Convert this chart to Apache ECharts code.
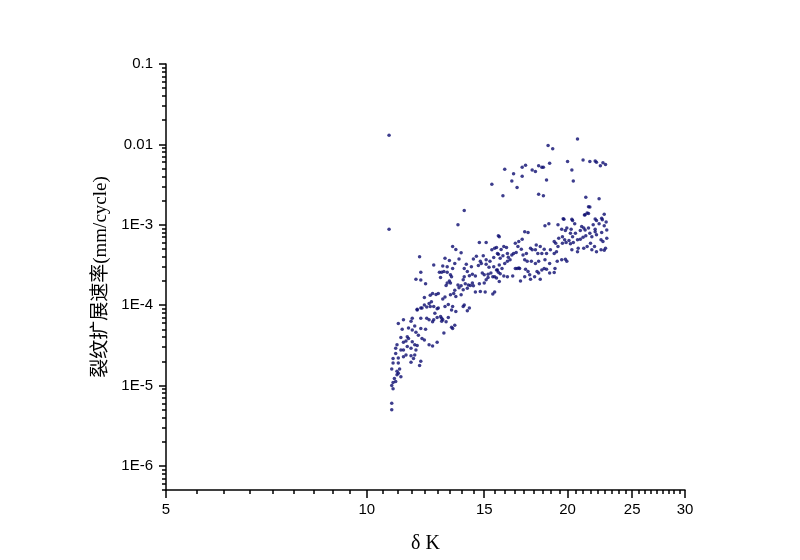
<!DOCTYPE html>
<html>
<head>
<meta charset="utf-8">
<script src="https://cdn.jsdelivr.net/npm/echarts@6/dist/echarts.min.js"></script>
<style>
html,body{margin:0;padding:0;background:#fff}
#chart{width:800px;height:560px}
</style>
</head>
<body>
<div id="chart"></div>
<script>
// 坐标轴刻度
const xTicks = [5, 10, 15, 20, 25, 30];
const yTicks = [1e-6, 1e-5, 1e-4, 1e-3, 0.01, 0.1];
const yTickLabels = ['1E-6', '1E-5', '1E-4', '1E-3', '0.01', '0.1'];

// [ΔK, da/dN] 上方离散点
const upperBand = [
  [10.8,0.013],[14.0,1.5e-3],[15.4,3.2e-3],[16.0,2.3e-3],[16.1,4.9e-3],[16.6,4.3e-3],[16.5,3.5e-3],[16.8,2.9e-3],
  [17.1,4.0e-3],[17.1,5.2e-3],[17.3,5.5e-3],[17.7,4.8e-3],[17.9,4.6e-3],[18.1,5.4e-3],[18.3,5.2e-3],[18.4,5.2e-3],
  [18.1,2.4e-3],[18.4,2.3e-3],[18.6,3.6e-3],[18.7,9.7e-3],[19.0,8.8e-3],[18.8,5.8e-3],[20.0,6.1e-3],[20.3,4.8e-3],
  [20.4,3.5e-3],[20.7,0.0117],[21.1,6.4e-3],[21.6,6.1e-3],[22.0,6.2e-3],[22.1,6.0e-3],[22.4,5.4e-3],[22.6,5.9e-3],
  [22.8,5.6e-3],[21.3,2.2e-3],[22.3,2.1e-3],[21.5,1.67e-3],[21.5,1.38e-3],[21.2,1.32e-3],[22.7,1.35e-3],[22.5,1.2e-3],
  [22.0,1.18e-3],[19.7,1.19e-3],[20.3,1.17e-3]
];

// 主带 ΔK 12~16
const midBand = [
  [10.8,8.8e-4],[13.7,1.0e-3],[15.8,7.1e-4],[14.75,6.0e-4],[15.1,6.0e-4],[13.45,5.35e-4],[13.6,4.9e-4],[13.85,4.47e-4],[15.4,4.87e-4],[15.65,5.2e-4],
  [12.0,4.0e-4],[13.1,3.84e-4],[13.3,3.6e-4],[13.75,3.75e-4],[13.55,3.3e-4],[14.6,4.05e-4],[14.45,3.75e-4],[14.8,3.5e-4],[14.95,4.1e-4],[15.1,3.66e-4],
  [15.3,3.5e-4],[15.5,3.9e-4],[15.75,4.3e-4],[12.6,3.16e-4],[13.0,3.07e-4],[13.2,3.0e-4],[13.45,2.85e-4],[14.1,3.23e-4],[14.35,3.0e-4],[14.7,3.1e-4],
  [14.85,3.3e-4],[15.1,3.23e-4],[15.5,3.0e-4],[15.7,2.74e-4],[15.25,2.95e-4],[12.85,2.57e-4],[12.95,2.57e-4],[13.05,2.62e-4],[12.9,2.2e-4],[13.2,2.57e-4],
  [13.35,2.38e-4],[13.4,2.25e-4],[14.0,2.85e-4],[14.15,2.62e-4],[14.4,2.42e-4],[14.55,2.3e-4],[14.0,2.26e-4],[14.9,2.5e-4],[15.0,2.38e-4],[15.2,2.42e-4],
  [15.35,2.5e-4],[15.45,2.26e-4],[15.75,2.57e-4],[15.55,2.26e-4],[12.05,2.57e-4],[11.85,2.1e-4],[12.05,2.05e-4],[12.25,1.84e-4],[13.3,2.0e-4],[13.2,1.88e-4],
  [13.15,1.75e-4],[13.35,1.88e-4],[13.95,2.06e-4],[14.05,1.84e-4],[14.2,1.78e-4],[14.3,1.75e-4],[14.4,1.88e-4],[14.25,2.32e-4],[14.45,1.74e-4],[14.75,1.84e-4],
  [15.0,1.88e-4],[15.1,2.06e-4],[15.2,2.2e-4],[15.65,2.17e-4],[15.8,1.96e-4],[13.7,1.78e-4],[13.75,1.64e-4],[13.85,1.74e-4],[13.55,1.53e-4],[13.5,1.39e-4],
  [13.35,1.34e-4],[13.1,1.26e-4],[13.0,1.19e-4],[12.55,1.39e-4],[12.45,1.33e-4],[12.7,1.35e-4],[12.8,1.39e-4],[12.5,1.1e-4],[12.2,1.24e-4],[12.4,1.05e-4],
  [13.25,1.02e-4],[13.6,1.28e-4],[13.85,1.34e-4],[13.95,1.55e-4],[14.15,1.62e-4],[14.55,1.45e-4],[14.8,1.48e-4],[15.05,1.45e-4],[15.55,1.45e-4],[15.45,1.37e-4],
  [14.0,1.0e-4],[14.25,9.2e-5],[12.2,1.0e-4],[12.05,9.2e-5],[11.9,8.9e-5],[12.3,9.5e-5],[12.6,9.6e-5],[12.8,9.2e-5],[13.1,9.6e-5],[13.4,8.7e-5]
];

// 主带 ΔK 15.5~23
const highBand = [
  [15.75,7.3e-4],[15.55,5.1e-4],[15.7,4.4e-4],[15.9,4.9e-4],[16.05,5.35e-4],[16.2,5.2e-4],[15.85,3.84e-4],[16.0,4.1e-4],[16.25,4.4e-4],[16.3,3.95e-4],
  [16.5,4.2e-4],[16.6,4.4e-4],[16.75,4.5e-4],[16.4,3.66e-4],[16.25,3.5e-4],[16.1,3.3e-4],[15.8,3.16e-4],[15.95,2.85e-4],[15.65,2.74e-4],[15.85,2.45e-4],
  [16.05,2.3e-4],[16.25,2.26e-4],[16.55,2.3e-4],[16.7,2.85e-4],[16.8,2.85e-4],[16.9,2.9e-4],[16.95,2.85e-4],[17.0,2.0e-4],[17.25,2.26e-4],[17.3,2.8e-4],
  [17.45,2.62e-4],[17.55,2.38e-4],[17.6,2.1e-4],[17.85,2.26e-4],[18.0,2.62e-4],[18.1,2.5e-4],[18.2,2.1e-4],[18.3,2.74e-4],[18.45,2.85e-4],[18.6,2.8e-4],
  [18.8,2.5e-4],[19.1,2.55e-4],[19.15,2.85e-4],[18.8,3.3e-4],[18.5,3.66e-4],[18.1,3.5e-4],[17.9,3.3e-4],[17.65,3.5e-4],[17.4,3.5e-4],[17.25,3.66e-4],
  [17.15,4.2e-4],[17.35,4.4e-4],[17.7,4.87e-4],[17.9,4.87e-4],[18.05,4.4e-4],[18.3,4.4e-4],[18.45,4.95e-4],[18.6,4.4e-4],[18.85,4.87e-4],[19.1,4.4e-4],
  [19.25,4.6e-4],[19.35,5.35e-4],[19.2,5.9e-4],[19.1,6.2e-4],[19.4,6.8e-4],[19.65,7.1e-4],[19.8,6.5e-4],[19.65,5.9e-4],[19.9,6.0e-4],[20.1,6.35e-4],
  [20.2,5.8e-4],[20.4,6.0e-4],[20.7,6.5e-4],[20.9,6.6e-4],[21.1,7.0e-4],[21.3,7.3e-4],[21.6,7.85e-4],[21.75,7.1e-4],[22.0,8.2e-4],[22.1,7.5e-4],
  [22.5,8.0e-4],[22.7,9.7e-4],[22.55,1.15e-3],[22.1,1.13e-3],[21.85,1.0e-3],[21.5,9.1e-4],[21.25,8.6e-4],[21.0,9.5e-4],[20.9,8.5e-4],[20.55,7.85e-4],
  [20.35,7.1e-4],[20.2,7.85e-4],[19.85,8.5e-4],[19.95,9.1e-4],[20.25,8.8e-4],[19.6,8.8e-4],[19.35,1.0e-3],[18.75,1.03e-3],[18.5,9.7e-4],[19.75,1.17e-3],
  [20.35,1.13e-3],[20.5,1.03e-3],[21.25,1.33e-3],[21.4,1.4e-3],[21.6,1.66e-3],[21.15,9.1e-4],[21.65,5.9e-4],[21.95,5.35e-4],[22.1,4.6e-4],[22.45,4.87e-4],
  [22.7,4.8e-4],[21.75,4.87e-4],[21.4,5.35e-4],[21.15,5.1e-4],[20.75,5.1e-4],[20.7,4.6e-4],[20.3,4.87e-4],[19.85,3.73e-4],[19.95,3.5e-4],[19.6,3.66e-4],
  [19.3,3.5e-4],[17.25,8.2e-4],[17.45,8.0e-4],[16.9,6.2e-4],[16.7,5.9e-4],[16.85,5.35e-4],[17.05,4.95e-4],[17.1,6.6e-4],[17.6,5.1e-4],[17.95,5.6e-4],
  [18.2,5.35e-4],[22.3,1.03e-3],[22.0,8.8e-4],[22.45,6.5e-4],[22.6,6.2e-4],[22.9,8.6e-4],[22.8,5.1e-4],[22.85,1.08e-3],[22.9,6.8e-4]
];

// 低速区 ΔK 11~14
const lowBand = [
  [11.9,8.7e-5],[12.1,9.2e-5],[12.45,9.6e-5],[12.75,9.0e-5],[13.45,9.6e-5],[13.6,8.3e-5],[13.95,9.6e-5],[14.15,8.5e-5],
  [12.3,6.85e-5],[12.4,6.55e-5],[12.55,6.2e-5],[12.6,6.55e-5],[12.75,7.0e-5],[12.9,7.2e-5],[13.0,6.55e-5],[12.95,6.3e-5],[13.15,6.2e-5],[13.25,7.0e-5],
  [11.7,6.85e-5],[11.65,6.3e-5],[11.35,6.55e-5],[11.15,5.9e-5],[11.3,5.0e-5],[11.55,5.2e-5],[11.8,5.5e-5],[11.7,4.9e-5],[11.85,4.6e-5],[12.05,5.1e-5],
  [12.25,5.0e-5],[11.95,4.2e-5],[12.1,3.85e-5],[12.2,3.68e-5],[12.4,3.2e-5],[12.55,3.1e-5],[12.75,3.45e-5],[13.05,4.5e-5],[13.45,5.1e-5],[13.55,5.6e-5],
  [11.5,4.05e-5],[11.45,3.58e-5],[11.35,3.45e-5],[11.25,3.95e-5],[11.1,3.2e-5],[11.05,2.9e-5],[11.25,2.77e-5],[11.05,2.5e-5],[11.15,2.2e-5],[10.95,2.17e-5],
  [10.95,1.9e-5],[10.9,1.6e-5],[11.15,1.9e-5],[11.35,2.27e-5],[11.45,2.4e-5],[11.65,2.35e-5],[11.55,3.85e-5],[11.7,3.5e-5],[11.65,2.9e-5],[11.8,3.2e-5],
  [11.85,2.77e-5],[11.9,3.15e-5],[11.8,2.4e-5],[11.75,2.17e-5],[11.35,2.77e-5],[11.5,3.05e-5],[11.65,1.95e-5],[12.05,2.0e-5],[12.0,1.77e-5],[11.2,1.6e-5],
  [11.1,1.5e-5],[11.15,1.42e-5],[11.1,1.36e-5],[11.25,1.28e-5],[11.0,1.22e-5],[10.95,1.09e-5],[10.9,1.0e-5],[11.05,1.12e-5],[10.95,9.1e-6],[10.9,6.0e-6],
  [10.9,5.0e-6],[12.65,7.9e-5],[12.95,6.85e-5],[12.05,6.85e-5],[13.4,5.3e-5]
];

// 次刻度：x 每段 9 等分，y 每个数量级 2~9
const xMinor = [];
for (let i = 0; i < xTicks.length - 1; i++) {
  const step = (xTicks[i + 1] - xTicks[i]) / 9;
  for (let j = 1; j < 9; j++) xMinor.push(xTicks[i] + step * j);
}
const yMinor = [];
for (let e = -7; e <= -2; e++) {
  for (let k = 2; k <= 9; k++) {
    const v = k * Math.pow(10, e);
    if (v >= 5e-7 && v < 0.1) yMinor.push(v);
  }
}

const black = '#000';
const labelFont = 'Liberation Sans';

const myChart = echarts.init(document.getElementById('chart'));
const option = {
  animation: false,
  grid: { left: 166, right: 115, top: 64, bottom: 70, outerBoundsMode: 'none' },
  xAxis: [
    {
      type: 'log', logBase: 10, min: 5, max: 30, position: 'bottom',
      name: 'δ K', nameLocation: 'middle', nameGap: 44,
      nameTextStyle: { fontFamily: 'Liberation Serif', fontSize: 20, color: black },
      axisLine: { lineStyle: { color: black, width: 1.5 } },
      axisTick: { customValues: xTicks, length: 8, lineStyle: { color: black, width: 1.5 } },
      axisLabel: {
        customValues: xTicks, color: black, fontSize: 15, fontFamily: labelFont, margin: 12,
        formatter: v => String(Math.round(v))
      },
      splitLine: { show: false }
    },
    {
      type: 'log', logBase: 10, min: 5, max: 30, position: 'bottom',
      axisLine: { show: false },
      axisTick: { customValues: xMinor, length: 4, lineStyle: { color: black, width: 1.5 } },
      axisLabel: { show: false },
      splitLine: { show: false }
    }
  ],
  yAxis: [
    {
      type: 'log', logBase: 10, min: 5e-7, max: 0.1, position: 'left',
      name: '裂纹扩展速率(mm/cycle)', nameLocation: 'middle', nameGap: 55,
      nameTextStyle: { fontFamily: "'Liberation Serif', 'Noto Sans CJK SC'", fontSize: 19, color: black },
      axisLine: { lineStyle: { color: black, width: 1.5 } },
      axisTick: { customValues: yTicks, length: 7, lineStyle: { color: black, width: 1.5 } },
      axisLabel: {
        customValues: yTicks, color: black, fontSize: 15, fontFamily: labelFont, margin: 13,
        formatter: v => {
          const i = yTicks.findIndex(t => Math.abs(Math.log10(t) - Math.log10(v)) < 1e-6);
          return i >= 0 ? yTickLabels[i] : '';
        }
      },
      splitLine: { show: false }
    },
    {
      type: 'log', logBase: 10, min: 5e-7, max: 0.1, position: 'left',
      axisLine: { show: false },
      axisTick: { customValues: yMinor, length: 4, lineStyle: { color: black, width: 1.5 } },
      axisLabel: { show: false },
      splitLine: { show: false }
    }
  ],
  series: [upperBand, midBand, highBand, lowBand].map(d => ({
    type: 'scatter',
    xAxisIndex: 0,
    yAxisIndex: 0,
    data: d,
    symbol: 'circle',
    symbolSize: 3.5,
    itemStyle: { color: '#0c0c70' }
  }))
};
myChart.setOption(option);
</script>
</body>
</html>
